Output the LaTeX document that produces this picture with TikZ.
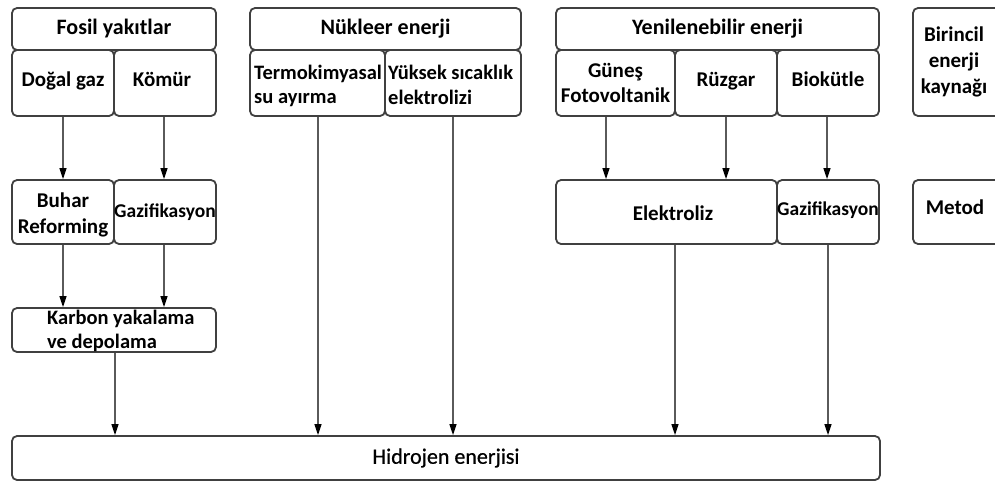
\documentclass[tikz,border=0pt]{standalone}
\usepackage{fontspec}
\setmainfont{Carlito}
\newfontfamily\hfont{Carlito}[FakeBold=0.6]
\usetikzlibrary{arrows.meta}
\definecolor{boxc}{HTML}{404040}
\definecolor{linec}{HTML}{5A5A5A}
\begin{document}
\begin{tikzpicture}[x=1pt,y=-1pt,
  bx/.style={draw=boxc, line width=1.8pt, rounded corners=5pt, fill=white,
    inner sep=0pt, align=center, font=\bfseries\fontsize{21}{25.5}\selectfont},
  hd/.style={font=\bfseries\fontsize{22}{26}\selectfont},
  one/.style={text height=15pt, text depth=9pt},
  txt/.style={inner sep=0pt, align=center, font=\bfseries\fontsize{21}{25.5}\selectfont},
  ltxt/.style={inner sep=0pt, align=left, anchor=west, font=\bfseries\fontsize{20.5}{24.5}\selectfont},
  smallf/.style={font=\bfseries\fontsize{19.5}{23}\selectfont},
  conn/.style={draw=linec, line width=1.4pt, -{Triangle[length=11pt,width=7pt,color=black]}}
]
\useasboundingbox (0,0) rectangle (995,482);
% top row
\node[bx, hd, minimum width=204pt, minimum height=42pt] (fosil) at (114,29) {Fosil yakıtlar};
\node[bx, hd, minimum width=271pt, minimum height=42pt] (nukleer) at (385.5,29) {Nükleer enerji};
\node[bx, hd, minimum width=323pt, minimum height=42pt] (yenil) at (717.5,29) {Yenilenebilir enerji};
\node[bx, minimum width=90pt, minimum height=108pt] (birincil) at (958,62) {};
\node[txt, font=\bfseries\fontsize{21}{26}\selectfont] (birtext) at (954,62) {Birincil\\enerji\\kaynağı};
% second row
\node[bx, one, minimum width=102pt, minimum height=66pt] (dogal) at (63,83) {Doğal gaz};
\node[bx, minimum width=102pt, minimum height=66pt] (komur) at (165,83) {};
\node[txt, one] (komtext) at (162,83) {Kömür};
\node[bx, minimum width=135pt, minimum height=66pt] (termo) at (317.5,83) {};
\node[ltxt] (termotext) at (254,86) {Termokimyasal\\su ayırma};
\node[bx, minimum width=136pt, minimum height=66pt] (yuksek) at (453,83) {};
\node[ltxt] (yuksektext) at (388,85) {Yüksek sıcaklık\\elektrolizi};
\node[bx, minimum width=119pt, minimum height=66pt] (gunes) at (615.5,83) {Güneş\\Fotovoltanik};
\node[bx, one, minimum width=102pt, minimum height=66pt] (ruzgar) at (726,83) {Rüzgar};
\node[bx, one, minimum width=102pt, minimum height=66pt] (biokutle) at (828,83) {Biokütle};
% third row
\node[bx, minimum width=102pt, minimum height=64pt] (buhar) at (63,212) {};
\node[txt] (buhartext) at (63,215) {Buhar\\Reforming};
\node[bx, smallf, minimum width=102pt, minimum height=64pt] (gazif1) at (165,212) {Gazifikasyon};
\node[bx, minimum width=221pt, minimum height=64pt] (elektroliz) at (666.5,212) {};
\node[txt] (elektext) at (673,213) {Elektroliz};
\node[bx, minimum width=102pt, minimum height=64pt] (gazif2) at (828,212) {};
\node[txt, smallf] (gaz2text) at (828,210) {Gazifikasyon};
\node[bx, minimum width=90pt, minimum height=64pt] (metod) at (958,212) {};
\node[txt] (metext) at (955,207) {Metod};
% fourth row
\node[bx, minimum width=204pt, minimum height=44pt] (karbon) at (114,330) {};
\node[ltxt] (karbontext) at (47,331) {Karbon yakalama\\ve depolama};
% bottom
\node[bx, minimum width=868pt, minimum height=44pt, font=\hfont\fontsize{22}{26}\selectfont] (hidrojen) at (446,458) {Hidrojen enerjisi};
% column helper coordinates
\coordinate (c1) at (63,0);
\coordinate (c2) at (164,0);
\coordinate (c3) at (115,0);
\coordinate (c4) at (318,0);
\coordinate (c5) at (453,0);
\coordinate (c6) at (606,0);
\coordinate (c7) at (726,0);
\coordinate (c8) at (827,0);
\coordinate (c9) at (675,0);
\coordinate (c10) at (828,0);
% connectors
\draw[conn] (dogal.south -| c1) -- (buhar.north -| c1);
\draw[conn] (komur.south -| c2) -- (gazif1.north -| c2);
\draw[conn] (buhar.south -| c1) -- (karbon.north -| c1);
\draw[conn] (gazif1.south -| c2) -- (karbon.north -| c2);
\draw[conn] (karbon.south -| c3) -- (hidrojen.north -| c3);
\draw[conn] (termo.south -| c4) -- (hidrojen.north -| c4);
\draw[conn] (yuksek.south -| c5) -- (hidrojen.north -| c5);
\draw[conn] (gunes.south -| c6) -- (elektroliz.north -| c6);
\draw[conn] (ruzgar.south -| c7) -- (elektroliz.north -| c7);
\draw[conn] (biokutle.south -| c8) -- (gazif2.north -| c8);
\draw[conn] (elektroliz.south -| c9) -- (hidrojen.north -| c9);
\draw[conn] (gazif2.south -| c10) -- (hidrojen.north -| c10);
\end{tikzpicture}
\end{document}
